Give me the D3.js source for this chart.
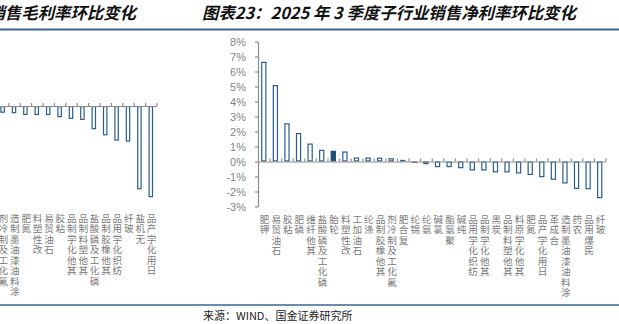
<!DOCTYPE html>
<html>
<head>
<meta charset="utf-8">
<script src="https://cdn.jsdelivr.net/npm/d3@7"></script>
<style>
  html, body { margin: 0; padding: 0; background: #fff; }
  svg { display: block; }
</style>
</head>
<body>
<svg id="chart" width="619" height="324"></svg>
<script>
// ---- Net margin change by sub-industry, Q3 2025 (percentage points) ----
const netCategories = [
  "钾肥", "石油贸易", "粘胶", "磷肥", "其他纤维", "磷化工及磷酸盐", "轮胎", "改性塑料",
  "石油加工", "涤纶", "其他橡胶制品", "氟化工及制冷剂", "复合肥", "锦纶", "氨纶", "氯碱",
  "聚氨酯", "纯碱", "纺织化学用品", "其他化学制品", "炭黑", "其他塑料制品", "其他化学原料",
  "氮肥", "日用化学产品", "合成革", "涂料油漆油墨制造", "农药", "民爆用品", "玻纤"
];
const netValues = [
  6.65, 5.10, 2.55, 1.90, 1.20, 0.78, 0.72, 0.67,
  0.27, 0.27, 0.26, 0.22, 0.11, -0.05, -0.18, -0.38,
  -0.38, -0.45, -0.60, -0.60, -0.73, -0.73, -0.80,
  -0.90, -1.05, -1.22, -1.47, -1.83, -1.85, -2.45
];
const netHighlight = ["轮胎"];
const netTicks = [8, 7, 6, 5, 4, 3, 2, 1, 0, -1, -2, -3];

// ---- Gross margin change (right end of the neighbouring chart) ----
const grossCategories = [
  "氟化工及制冷剂", "涂料油漆油墨制造", "氮肥", "改性塑料", "石油贸易", "粘胶",
  "其他化学制品", "其他塑料制品", "磷化工及磷酸盐", "其他橡胶制品", "纺织化学用品",
  "玻纤", "无机盐", "日用化学产品"
];
const grossValues = [
  -0.41, -0.44, -0.55, -0.55, -0.55, -0.68,
  -0.79, -0.85, -1.41, -1.78, -2.10,
  -2.16, -5.05, -5.53
];

const titleLeft = "图表22：2025 年 3 季度子行业销售毛利率环比变化";
const titleRight = "图表23：2025 年 3 季度子行业销售净利率环比变化";
const sourceText = "来源：WIND、国金证券研究所";

const svg = d3.select("#chart");
const CJK = "'Noto Sans CJK SC', 'Noto Sans', sans-serif";
const LATIN = "'Liberation Sans', Arial, sans-serif";
const BAR_STROKE = "#285e8e";
const BAR_FILL_HL = "#1f4e79";
const AXIS = "#8c8c8c";
const LABEL = "#7a7a7a";

// header and footer rules
svg.append("line").attr("x1", 0).attr("x2", 619).attr("y1", 29.5).attr("y2", 29.5)
  .attr("stroke", "#3a6592").attr("stroke-width", 2);
svg.append("line").attr("x1", 0).attr("x2", 619).attr("y1", 305).attr("y2", 305)
  .attr("stroke", "#3a6592").attr("stroke-width", 1.6);

// titles
function title(text, x, anchor) {
  svg.append("text").attr("x", x).attr("y", 19)
    .attr("text-anchor", anchor)
    .attr("font-family", CJK).attr("font-size", 16.4)
    .attr("font-weight", 700).attr("font-style", "italic")
    .attr("fill", "#111").text(text);
}
title(titleLeft, 136, "end");
title(titleRight, 202, "start");

svg.append("text").attr("x", 203).attr("y", 320)
  .attr("font-family", CJK).attr("font-size", 11).attr("fill", "#222")
  .text(sourceText);

// vertical category labels: upright glyphs, read bottom to top, last glyph at the top
function verticalLabels(g, cats, xCenter, top) {
  const step = 10.5;
  cats.forEach(c => {
    const chars = Array.from(c);
    const n = chars.length;
    chars.forEach((ch, i) => {
      g.append("text")
        .attr("font-family", CJK).attr("font-size", 9.6)
        .attr("fill", LABEL).attr("text-anchor", "middle")
        .attr("x", xCenter(c))
        .attr("y", top + (n - 1 - i) * step + 8.6)
        .text(ch);
    });
  });
}

function bars(g, cats, vals, x, y, hl) {
  const inset = 0.6;
  g.selectAll("rect.bar").data(cats.map((c, i) => ({ c, v: vals[i] })))
    .join("rect").attr("class", "bar")
    .attr("x", d => x(d.c) + inset)
    .attr("width", x.bandwidth() - 2 * inset)
    .attr("y", d => Math.min(y(d.v), y(0)) + inset)
    .attr("height", d => Math.max(Math.abs(y(d.v) - y(0)) - 2 * inset, 0.2))
    .attr("fill", d => hl.includes(d.c) ? BAR_FILL_HL : "#fff")
    .attr("stroke", d => hl.includes(d.c) ? BAR_FILL_HL : BAR_STROKE)
    .attr("stroke-width", 1.2);
}

// zero line with small inward ticks between categories
function zeroAxis(g, n, x0, x1, yZero) {
  const idx = d3.scaleLinear().domain([0, n]).range([x0, x1]);
  const ax = g.append("g").attr("transform", `translate(0,${yZero})`)
    .call(d3.axisTop(idx).tickValues(d3.range(1, n + 1)).tickSize(3)
      .tickSizeOuter(0).tickFormat(""));
  ax.select(".domain").attr("stroke", AXIS).attr("stroke-width", 1.2);
  ax.selectAll(".tick line").attr("stroke", AXIS).attr("stroke-width", 1.2);
}

// ---------- right chart: net margin ----------
{
  const g = svg.append("g");
  const x0 = 258, x1 = 605.5;
  const x = d3.scaleBand().domain(netCategories).range([x0, x1])
    .paddingInner(0.54).paddingOuter(0.27);
  const y = d3.scaleLinear().domain([-3, 8]).range([206.5, 41.5]);

  bars(g, netCategories, netValues, x, y, netHighlight);
  zeroAxis(g, netCategories.length, x0, x1, y(0));

  const ya = g.append("g").attr("transform", `translate(${x0},0)`)
    .call(d3.axisLeft(y).tickValues(netTicks).tickSize(3).tickSizeOuter(0)
      .tickPadding(9).tickFormat(d => d + "%"));
  ya.select(".domain").attr("stroke", AXIS).attr("stroke-width", 1.2);
  ya.selectAll(".tick line").attr("stroke", AXIS).attr("stroke-width", 1.2);
  ya.selectAll(".tick text").attr("font-family", LATIN).attr("font-size", 11)
    .attr("fill", "#858585");

  verticalLabels(g, netCategories, c => x(c) + x.bandwidth() / 2 + 0.8, 214);
}

// ---------- left chart: gross margin (clipped at the page edge) ----------
{
  const g = svg.append("g");
  const x0 = -3.1, x1 = 156.5;
  const x = d3.scaleBand().domain(grossCategories).range([x0, x1])
    .paddingInner(0.6).paddingOuter(0.3);
  const y = d3.scaleLinear().domain([-6, 4]).range([205, 40]);

  bars(g, grossCategories, grossValues, x, y, []);
  zeroAxis(g, grossCategories.length, x0, x1, y(0));
  verticalLabels(g, grossCategories, c => x(c) + x.bandwidth() / 2 + 0.8, 213);
}
</script>
</body>
</html>
